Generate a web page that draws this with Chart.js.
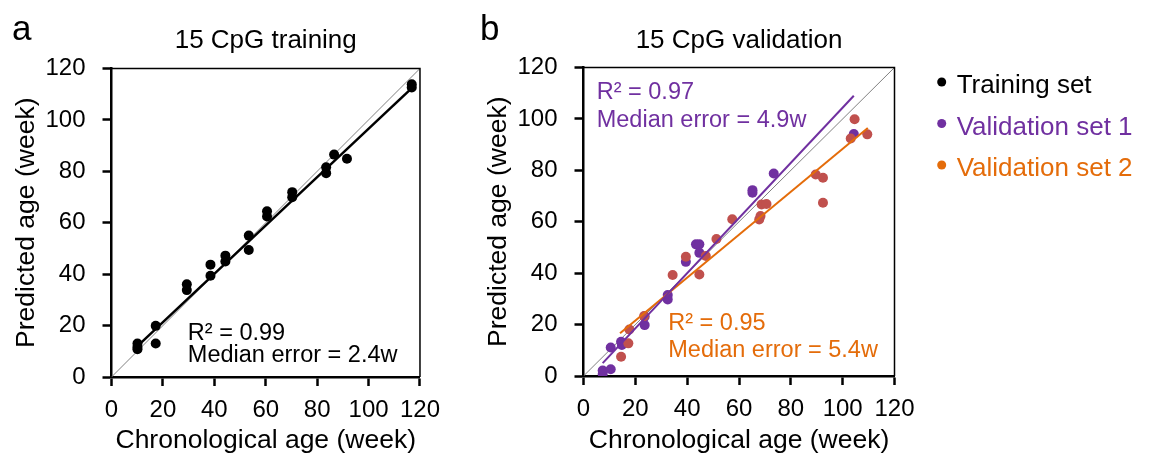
<!DOCTYPE html>
<html>
<head>
<meta charset="utf-8">
<script src="https://cdn.jsdelivr.net/npm/chart.js@4.4.0/dist/chart.umd.min.js"></script>
<style>
  body { margin: 0; background: #fff; width: 1150px; height: 458px; overflow: hidden; position: relative; }
  #c1 { position: absolute; left: 0; top: 0; }
  #c2 { position: absolute; left: 472px; top: 0; }
</style>
</head>
<body>
<canvas id="c1" width="450" height="458"></canvas>
<canvas id="c2" width="678" height="458"></canvas>
<script>
// values (weeks)
var trainX = [10.1, 10.1, 10.1, 17.2, 17.2, 29.3, 29.3, 38.5, 38.5, 44.3, 44.3, 53.4, 53.4, 60.5, 60.5, 70.3, 70.3, 83.5, 83.5, 86.6, 91.6, 116.8, 116.8];
var trainY = [13.0, 11.7, 10.8, 19.9, 13.0, 36.1, 33.8, 43.7, 39.4, 47.2, 44.9, 55.0, 49.4, 64.5, 62.4, 71.9, 69.9, 81.6, 79.3, 86.5, 84.9, 113.9, 112.6];

var val1X = [7.4, 7.4, 10.5, 10.5, 14.5, 14.8, 23.6, 23.6, 32.5, 32.5, 39.5, 43.4, 44.7, 44.7, 65.2, 65.2, 73.4, 104.3];
var val1Y = [0.8, 2.1, 2.6, 11.1, 13.3, 12.1, 23.1, 19.8, 31.5, 29.8, 44.4, 51.2, 51.2, 47.9, 72.3, 71.3, 78.8, 94.1];

var val2X = [14.5, 17.3, 17.7, 23.4, 34.4, 39.5, 44.7, 47.2, 51.3, 57.4, 67.8, 68.3, 68.7, 70.6, 89.6, 92.4, 92.4, 103.1, 104.6, 109.5];
var val2Y = [7.5, 12.7, 18.1, 23.3, 39.3, 46.4, 39.5, 46.7, 53.3, 61.0, 60.9, 62.2, 66.7, 66.9, 78.4, 77.1, 67.4, 92.4, 99.9, 94.0];

// trend line end points
var trainFitX = [10.1, 116.8], trainFitY = [12.0, 112.4];
var val1FitX = [7.4, 104.3], val1FitY = [5.0, 109.0];
var val2FitX = [14.1, 109.7], val2FitY = [16.6, 96.5];
var identX = [0, 120], identY = [0, 120];

var ticks = [0, 20, 40, 60, 80, 100, 120];
var legendLabels = ['Training set', 'Validation set 1', 'Validation set 2'];

var BLACK = '#000000', PURPLE = '#7030A0', ORANGE = '#E46C0A', RED = '#C0504D';
var FONT = '"Liberation Sans", Arial, sans-serif';

function pts(xs, ys) {
  return xs.map(function (v, i) { return { x: v, y: ys[i] }; });
}

function pointSet(label, xs, ys, color) {
  return { label: label, data: pts(xs, ys), showLine: false, pointRadius: 5, pointHoverRadius: 5,
           pointBackgroundColor: color, pointBorderWidth: 0, borderColor: color, order: 1 };
}
function lineSet(label, xs, ys, color, w, order) {
  return { label: label, data: pts(xs, ys), showLine: true, pointRadius: 0, borderColor: color,
           borderWidth: w, fill: false, order: order };
}

function axes(xHeight, yWidth) {
  var tickFont = { family: FONT, size: 24 };
  var grid = { drawOnChartArea: false, drawTicks: true, tickLength: 9, tickWidth: 2.5, tickColor: BLACK };
  var border = { display: true, color: BLACK, width: 2.5 };
  return {
    x: {
      type: 'linear', min: 0, max: 120,
      afterBuildTicks: function (s) { s.ticks = ticks.map(function (v) { return { value: v }; }); },
      afterFit: function (s) { s.height = xHeight; },
      ticks: { font: tickFont, color: BLACK, padding: 10, maxRotation: 0 },
      grid: grid, border: border,
      title: { display: true, text: 'Chronological age (week)', color: BLACK,
               font: { family: FONT, size: 26.5 }, padding: { top: 0, bottom: 1 } }
    },
    y: {
      type: 'linear', min: 0, max: 120,
      afterBuildTicks: function (s) { s.ticks = ticks.map(function (v) { return { value: v }; }); },
      afterFit: function (s) { s.width = yWidth; },
      ticks: { font: tickFont, color: BLACK, padding: 17 },
      grid: grid, border: border,
      title: { display: true, text: 'Predicted age (week)', color: BLACK,
               font: { family: FONT, size: 26.5 }, padding: { top: 11, bottom: 0 } }
    }
  };
}

function decor(cfg) {
  return {
    id: 'decor',
    afterDatasetsDraw: function (chart) {
      var ctx = chart.ctx, a = chart.chartArea, sx = chart.scales.x, sy = chart.scales.y;
      ctx.save();
      ctx.strokeStyle = BLACK;
      ctx.lineWidth = 1.5;
      ctx.beginPath();
      ctx.moveTo(a.left, a.top);
      ctx.lineTo(a.right, a.top);
      ctx.lineTo(a.right, a.bottom);
      ctx.stroke();

      ctx.textBaseline = 'alphabetic';
      ctx.fillStyle = BLACK;
      ctx.font = '26px ' + FONT;
      ctx.textAlign = 'center';
      ctx.fillText(cfg.title, (a.left + a.right) / 2, 48);

      ctx.textAlign = 'left';
      ctx.font = '35px ' + FONT;
      ctx.fillText(cfg.letter, cfg.letterX, 40);

      ctx.font = '23.5px ' + FONT;
      cfg.notes.forEach(function (n) {
        ctx.fillStyle = n.color;
        ctx.fillText(n.text, sx.getPixelForValue(n.x), sy.getPixelForValue(n.y));
      });

      if (cfg.legend) {
        ctx.font = '26px ' + FONT;
        cfg.legend.forEach(function (item, i) {
          var base = 93 + i * 41.5;
          ctx.fillStyle = item.color;
          ctx.beginPath();
          ctx.arc(cfg.legendX, base - 11, 4.5, 0, Math.PI * 2);
          ctx.fill();
          ctx.fillText(item.text, cfg.legendX + 15, base);
        });
      }
      ctx.restore();
    }
  };
}

new Chart(document.getElementById('c1'), {
  type: 'scatter',
  data: {
    datasets: [
      lineSet('fit', trainFitX, trainFitY, BLACK, 2.5, 0),
      pointSet(legendLabels[0], trainX, trainY, BLACK),
      lineSet('y = x', identX, identY, '#808080', 1, 2)
    ]
  },
  options: {
    responsive: false, animation: false, devicePixelRatio: 1,
    layout: { padding: { top: 68.5, right: 28.5, left: 0, bottom: 0 } },
    plugins: { legend: { display: false }, tooltip: { enabled: false } },
    scales: axes(81, 111.5)
  },
  plugins: [decor({
    title: '15 CpG training', letter: 'a', letterX: 12,
    notes: [
      { text: 'R\u00b2 = 0.99', x: 29.7, y: 14.4, color: BLACK },
      { text: 'Median error = 2.4w', x: 29.7, y: 5.8, color: BLACK }
    ]
  })]
});

new Chart(document.getElementById('c2'), {
  type: 'scatter',
  data: {
    datasets: [
      lineSet('fit 1', val1FitX, val1FitY, PURPLE, 2, 0),
      lineSet('fit 2', val2FitX, val2FitY, ORANGE, 2, 0),
      pointSet(legendLabels[2], val2X, val2Y, RED),
      pointSet(legendLabels[1], val1X, val1Y, PURPLE),
      lineSet('y = x', identX, identY, '#808080', 1, 2)
    ]
  },
  options: {
    responsive: false, animation: false, devicePixelRatio: 1,
    layout: { padding: { top: 67.5, right: 255.5, left: 0, bottom: 0 } },
    plugins: { legend: { display: false }, tooltip: { enabled: false } },
    scales: axes(82, 111.5)
  },
  plugins: [decor({
    title: '15 CpG validation', letter: 'b', letterX: 8,
    notes: [
      { text: 'R\u00b2 = 0.97', x: 5.1, y: 107.7, color: PURPLE },
      { text: 'Median error = 4.9w', x: 5.1, y: 96.9, color: PURPLE },
      { text: 'R\u00b2 = 0.95', x: 32.7, y: 17.9, color: ORANGE },
      { text: 'Median error = 5.4w', x: 32.7, y: 7.5, color: ORANGE }
    ],
    legendX: 469.7,
    legend: [
      { text: legendLabels[0], color: BLACK },
      { text: legendLabels[1], color: PURPLE },
      { text: legendLabels[2], color: ORANGE }
    ]
  })]
});
</script>
</body>
</html>
